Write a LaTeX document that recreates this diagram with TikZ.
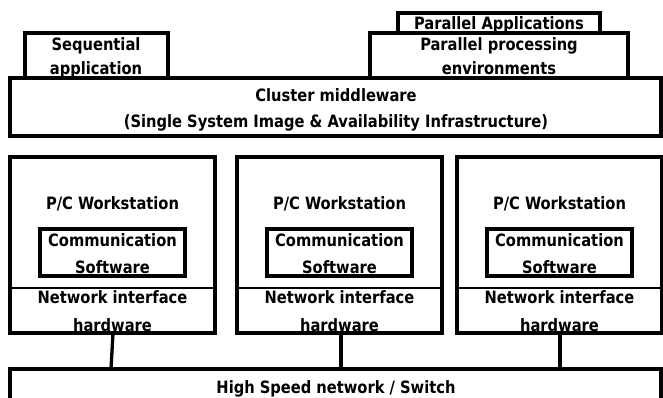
\documentclass[tikz,border=0pt]{standalone}
\usepackage{fontspec}
\setmainfont{DejaVu Sans Condensed}[BoldFont={DejaVu Sans Condensed Bold},FakeStretch=0.96]
\begin{document}
\begin{tikzpicture}[x=1pt,y=-1pt,
  box/.style={draw,line width=3.3pt},
  thinbox/.style={draw,line width=2.2pt},
  lbl/.style={font=\bfseries\fontsize{17}{19}\selectfont,inner sep=0pt,anchor=base},
  link/.style={line width=3.3pt}]
\useasboundingbox (0,0) rectangle (663,398);
\begin{scope}
\clip (0,0) rectangle (663,398);
% upper layers
\draw[box] (398,13) rectangle (600,33);
\draw[box] (25,33) rectangle (168,78);
\draw[box] (370,33) rectangle (628,78);
\draw[box] (10,78) rectangle (661,136);
% workstations
\foreach \x/\n in {10/1,237/2,457/3}{
  \draw[box] (\x,157) rectangle ++(205,176);
  \draw[thinbox] (\x,288) -- ++(205,0);
  \draw[box] (\x+30,229) rectangle ++(145,47);
  \node[lbl] at (\x+102.5,209) {P/C Workstation};
  \node[lbl] at (\x+102.5,246) {Communication};
  \node[lbl] at (\x+102.5,273) {Software};
  \node[lbl] at (\x+102.5,303) {Network interface};
  \node[lbl] at (\x+102.5,331) {hardware};
}
% switch
\draw[box] (10,369) rectangle (661,410);
\coordinate (sw1) at (111,369);
\coordinate (sw2) at (341,369);
\coordinate (sw3) at (560,369);
\end{scope}
\coordinate (ws1b) at (113,333);
\coordinate (ws2b) at (341,333);
\coordinate (ws3b) at (560,333);
\draw[link] (ws1b) -- (sw1);
\draw[link] (ws2b) -- (sw2);
\draw[link] (ws3b) -- (sw3);
% labels
\node[lbl] (pa) at (499,30) {Parallel Applications};
\node[lbl] (sq1) at (96,51) {Sequential};
\node[lbl] (sq2) at (96,75) {application};
\node[lbl] (pp1) at (499,51) {Parallel processing};
\node[lbl] (pp2) at (499,75) {environments};
\node[lbl] (cm1) at (336,102) {Cluster middleware};
\node[lbl] (cm2) at (336,128) {(Single System Image \& Availability Infrastructure)};
\node[lbl] (hs) at (336,393) {High Speed network / Switch};
\end{tikzpicture}
\end{document}
